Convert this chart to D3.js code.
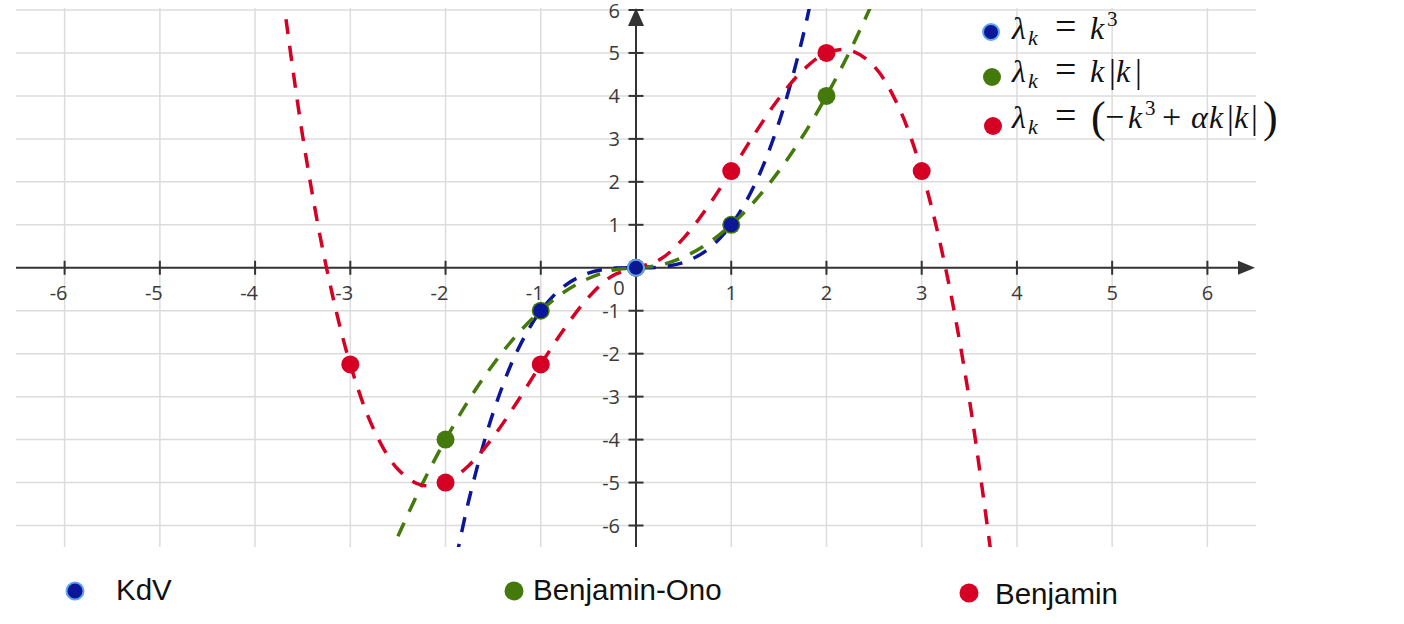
<!DOCTYPE html>
<html>
<head>
<meta charset="utf-8">
<script src="https://cdn.jsdelivr.net/npm/d3@7"></script>
<style>
  html, body { margin: 0; padding: 0; background: #fff; }
  svg { display: block; }
</style>
</head>
<body>
<svg id="chart" width="1404" height="624"></svg>
<script>
// ---------------- DATA ----------------
const xTicks = [-6, -5, -4, -3, -2, -1, 1, 2, 3, 4, 5, 6];
const yTicks = [-6, -5, -4, -3, -2, -1, 1, 2, 3, 4, 5, 6];
const seriesNames = ["KdV", "Benjamin-Ono", "Benjamin"];

const kdvCurveK = [-2, -1.75, -1.5, -1.25, -1, -0.75, -0.5, -0.25, 0, 0.25, 0.5, 0.75, 1, 1.25, 1.5, 1.75, 2];
const kdvCurveL = [-8, -5.36, -3.375, -1.95, -1, -0.42, -0.125, -0.016, 0, 0.016, 0.125, 0.42, 1, 1.95, 3.375, 5.36, 8];

const boCurveK = [-2.5, -2.25, -2, -1.75, -1.5, -1.25, -1, -0.75, -0.5, -0.25, 0, 0.25, 0.5, 0.75, 1, 1.25, 1.5, 1.75, 2, 2.25, 2.5];
const boCurveL = [-6.25, -5.06, -4, -3.06, -2.25, -1.56, -1, -0.56, -0.25, -0.06, 0, 0.06, 0.25, 0.56, 1, 1.56, 2.25, 3.06, 4, 5.06, 6.25];

const benCurveK = [-3.75, -3.5, -3.25, -3, -2.75, -2.5, -2.25, -2, -1.75, -1.5, -1.25, -1, -0.75, -0.5, -0.25, 0,
                   0.25, 0.5, 0.75, 1, 1.25, 1.5, 1.75, 2, 2.25, 2.5, 2.75, 3, 3.25, 3.5, 3.75];
const benCurveL = [7.03, 3.06, 0, -2.25, -3.78, -4.69, -5.06, -5, -4.59, -3.94, -3.13, -2.25, -1.41, -0.69, -0.19, 0,
                   0.19, 0.69, 1.41, 2.25, 3.13, 3.94, 4.59, 5, 5.06, 4.69, 3.78, 2.25, 0, -3.06, -7.03];

// markers
const kdvPtsK = [-1, 0, 1];
const kdvPtsL = [-1, 0, 1];
const boPtsK = [-2, -1, 0, 1, 2];
const boPtsL = [-4, -1, 0, 1, 4];
const benPtsK = [-3, -2, -1, 0, 1, 2, 3];
const benPtsL = [-2.25, -5, -2.25, 0, 2.25, 5, 2.25];

// ---------------- STYLE ----------------
const BLUE = "#0b1698", GREEN = "#437a0b", RED = "#d50024", HALO = "#5ea6ee";

const svg = d3.select("#chart");
const x = d3.scaleLinear().domain([-6.5, 6.5]).range([17, 1255]);
const y = d3.scaleLinear().domain([-6.5, 6]).range([547, 10]);
const x0 = x(0), y0 = y(0);

// grid
const grid = svg.append("g").attr("stroke", "#dcdcdc").attr("stroke-width", 1.5);
grid.selectAll("line.v").data(xTicks).join("line")
  .attr("x1", d => x(d)).attr("x2", d => x(d)).attr("y1", 8).attr("y2", 547);
grid.selectAll("line.h").data(yTicks).join("line")
  .attr("y1", d => y(d)).attr("y2", d => y(d)).attr("x1", 16).attr("x2", 1256);

// axes
const ax = svg.append("g").attr("stroke", "#333").attr("stroke-width", 2);
ax.append("line").attr("x1", 16).attr("x2", 1240).attr("y1", y0).attr("y2", y0);
ax.append("line").attr("x1", x0).attr("x2", x0).attr("y1", 547).attr("y2", 24);
svg.append("path").attr("fill", "#333")
  .attr("d", `M${x(6.5)},${y0} L${x(6.5) - 17},${y0 - 7} L${x(6.5) - 17},${y0 + 7} Z`);
svg.append("path").attr("fill", "#333")
  .attr("d", `M${x0},8 L${x0 - 8},26 L${x0 + 8},26 Z`);
ax.selectAll("line.tx").data(xTicks).join("line")
  .attr("x1", d => x(d)).attr("x2", d => x(d)).attr("y1", y0 - 7).attr("y2", y0 + 7);
ax.selectAll("line.ty").data(yTicks).join("line")
  .attr("y1", d => y(d)).attr("y2", d => y(d)).attr("x1", x0 - 7.5).attr("x2", x0 + 7.5);

const tickFont = { family: "'Open Sans', sans-serif", size: "20px", fill: "#3a3a3a" };
svg.append("g").selectAll("text").data(xTicks).join("text")
  .attr("x", d => x(d) + (d < 0 ? -6 : 0)).attr("y", y0 + 32)
  .attr("text-anchor", "middle")
  .attr("font-family", tickFont.family).attr("font-size", tickFont.size).attr("fill", tickFont.fill)
  .text(d => String(d));
svg.append("g").selectAll("text").data(yTicks).join("text")
  .attr("x", x0 - 16).attr("y", d => y(d) + 7.5)
  .attr("text-anchor", "end")
  .attr("font-family", tickFont.family).attr("font-size", tickFont.size).attr("fill", tickFont.fill)
  .text(d => String(d));
svg.append("text").attr("x", x0 - 17).attr("y", y0 + 27).attr("text-anchor", "middle")
  .attr("font-family", tickFont.family).attr("font-size", tickFont.size).attr("fill", tickFont.fill)
  .text("0");

// clip for curves
svg.append("clipPath").attr("id", "plotclip").append("rect")
  .attr("x", 16).attr("y", 9).attr("width", 1240).attr("height", 538);

const line = d3.line().x(d => x(d[0])).y(d => y(d[1])).curve(d3.curveCatmullRom.alpha(0.5));
const curves = [
  [kdvCurveK, kdvCurveL, BLUE],
  [boCurveK, boCurveL, GREEN],
  [benCurveK, benCurveL, RED]
];
const cg = svg.append("g").attr("clip-path", "url(#plotclip)");
curves.forEach(([ks, ls, c]) => {
  cg.append("path").datum(ks.map((k, i) => [k, ls[i]]))
    .attr("d", line).attr("fill", "none").attr("stroke", c)
    .attr("stroke-width", 3.5).attr("stroke-dasharray", "15,12");
});

// markers
const pg = svg.append("g");
pg.selectAll("circle.ben").data(benPtsK.map((k, i) => [k, benPtsL[i]])).join("circle")
  .attr("cx", d => x(d[0])).attr("cy", d => y(d[1])).attr("r", 9).attr("fill", RED);
pg.selectAll("circle.bo").data(boPtsK.map((k, i) => [k, boPtsL[i]])).join("circle")
  .attr("cx", d => x(d[0])).attr("cy", d => y(d[1])).attr("r", 9).attr("fill", GREEN);
pg.selectAll("circle.kdv").data(kdvPtsK.map((k, i) => [k, kdvPtsL[i]])).join("circle")
  .attr("cx", d => x(d[0])).attr("cy", d => y(d[1]))
  .attr("r", d => d[0] === 0 ? 8 : 7.5).attr("fill", BLUE)
  .attr("stroke", d => d[0] === 0 ? HALO : "none").attr("stroke-width", 2);

// top-right formula legend
const serif = "'Liberation Serif', 'Times New Roman', serif";
function formula(baseline, parts) {
  const t = svg.append("text").attr("font-family", serif).attr("fill", "#111").attr("y", baseline);
  parts.forEach(p => {
    t.append("tspan").attr("x", p[1]).attr("y", baseline + (p[2] || 0))
      .attr("font-size", (p[3] || 30) + "px")
      .attr("font-style", p[4] ? "italic" : "normal")
      .text(p[0]);
  });
}
const lhs = [["λ", 1012, 0, 32, true], ["k", 1028, 6, 22, true], ["=", 1055, 0, 38, false]];
formula(39, lhs.concat([["k", 1090, 0, 32, true], ["3", 1107, -13, 21, false]]));
formula(82, lhs.concat([["k", 1090, 0, 32, true], ["|", 1109, 1, 34, false], ["k", 1116, 0, 32, true], ["|", 1135, 1, 34, false]]));
formula(128, lhs.concat([
  ["(", 1091, 4, 44, false], ["−", 1105, 0, 34, false], ["k", 1128, 0, 32, true], ["3", 1145, -13, 21, false],
  ["+", 1162, 0, 34, false], ["α", 1191, 0, 32, true], ["k", 1209, 0, 32, true], ["|", 1227, 1, 34, false],
  ["k", 1234, 0, 32, true], ["|", 1251, 1, 34, false], [")", 1263, 4, 44, false]
]));
const legDots = [[991, 32, BLUE, true], [992, 77, GREEN, false], [993, 126, RED, false]];
legDots.forEach(([cx, cy, c, h]) => {
  svg.append("circle").attr("cx", cx).attr("cy", cy).attr("r", h ? 8 : 9).attr("fill", c)
    .attr("stroke", h ? HALO : "none").attr("stroke-width", 2);
});

// bottom legend
const bottomLeg = [
  { name: seriesNames[0], dx: 75, dy: 591, tx: 116, ty: 600, c: BLUE, halo: true },
  { name: seriesNames[1], dx: 514, dy: 591, tx: 533, ty: 600, c: GREEN, halo: false },
  { name: seriesNames[2], dx: 969, dy: 593, tx: 995, ty: 604, c: RED, halo: false }
];
bottomLeg.forEach(d => {
  svg.append("circle").attr("cx", d.dx).attr("cy", d.dy).attr("r", d.halo ? 8.5 : 9.5).attr("fill", d.c)
    .attr("stroke", d.halo ? HALO : "none").attr("stroke-width", 2);
  svg.append("text").attr("x", d.tx).attr("y", d.ty)
    .attr("font-family", "'Liberation Sans', Arial, sans-serif").attr("font-size", "29.5px").attr("fill", "#111")
    .text(d.name);
});
</script>
</body>
</html>
